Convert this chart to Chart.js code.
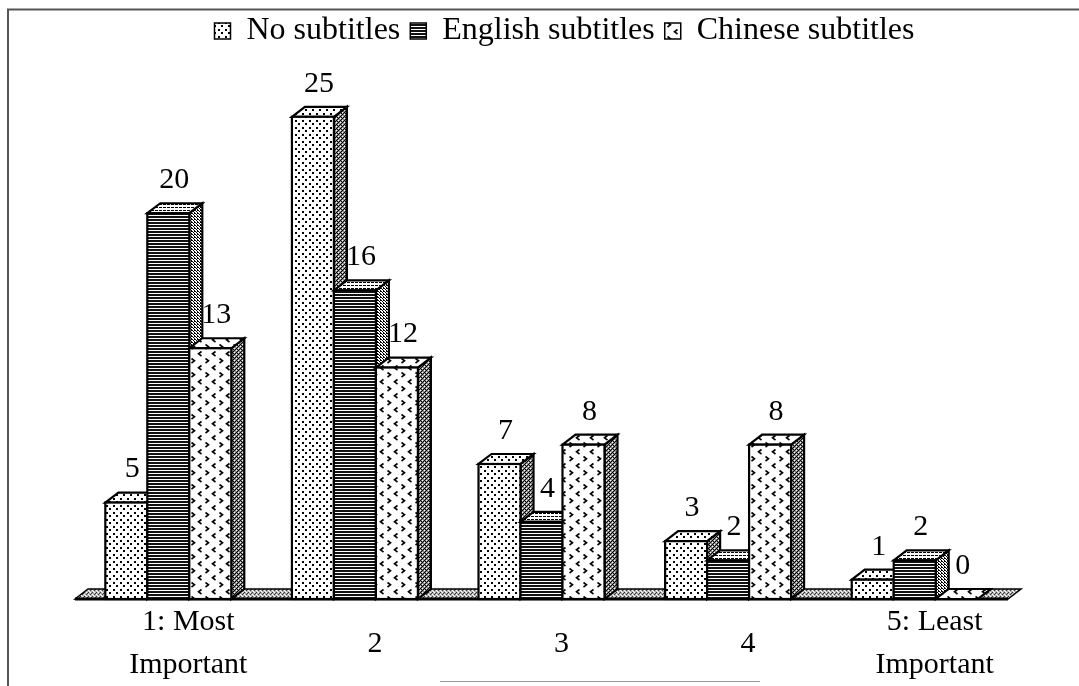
<!DOCTYPE html>
<html>
<head>
<meta charset="utf-8">
<script src="https://cdn.jsdelivr.net/npm/chart.js@4/dist/chart.umd.min.js"></script>
<style>
  html, body { margin: 0; padding: 0; background: #fff; }
  #wrap { width: 1079px; height: 686px; position: relative; }
</style>
</head>
<body>
<div id="wrap"><canvas id="rankChart"></canvas></div>
<script>
// ranking categories and counts per subtitle condition
const categories = [['1: Most', 'Important'], '2', '3', '4', ['5: Least', 'Important']];
const noSubtitles = [5, 25, 7, 3, 1];
const englishSubtitles = [20, 16, 4, 2, 2];
const chineseSubtitles = [13, 12, 8, 8, 0];
const seriesNames = ['No subtitles', 'English subtitles', 'Chinese subtitles'];

const serif = '"Liberation Serif", "Times New Roman", serif';
const DX = 13, DY = 10; // 3d depth offset

// small tiles turned into canvas patterns
function tile(w, h, draw) {
  const c = document.createElement('canvas');
  c.width = w; c.height = h;
  const g = c.getContext('2d');
  draw(g);
  return g.createPattern(c, 'repeat');
}
function px(g, pts, color) {
  g.fillStyle = color;
  pts.forEach(p => g.fillRect(p[0], p[1], 1, 1));
}

const dots = tile(7, 7, g => {
  g.fillStyle = '#fff'; g.fillRect(0, 0, 7, 7);
  g.fillStyle = '#000';
  g.fillRect(1, 1, 2, 2);
  g.fillRect(4, 4, 2, 2);
});
const hlines = tile(4, 3, g => {
  g.fillStyle = '#111'; g.fillRect(0, 0, 4, 3);
  g.fillStyle = '#fff'; g.fillRect(0, 2, 4, 1);
});
const chevrons = tile(14, 14, g => {
  g.fillStyle = '#fff'; g.fillRect(0, 0, 14, 14);
  g.strokeStyle = '#000'; g.lineWidth = 1.6;
  g.beginPath();
  g.moveTo(5.5, 1.5); g.lineTo(2.5, 3.8); g.lineTo(5.5, 6);
  g.moveTo(9.5, 8.5); g.lineTo(12.5, 10.8); g.lineTo(9.5, 13);
  g.stroke();
});
const darkHatch = tile(4, 4, g => {
  g.fillStyle = '#8a8a8a'; g.fillRect(0, 0, 4, 4);
  px(g, [[0, 0], [2, 2], [1, 3], [3, 1], [1, 1]], '#000');
  px(g, [[2, 0], [0, 2]], '#fff');
});
const denseDots = tile(3, 3, g => {
  g.fillStyle = '#fff'; g.fillRect(0, 0, 3, 3);
  px(g, [[0, 0], [1, 1], [2, 2], [2, 0]], '#000');
});
const lightLines = tile(4, 3, g => {
  g.fillStyle = '#fff'; g.fillRect(0, 0, 4, 3);
  px(g, [[0, 0], [1, 0], [3, 0]], '#000');
});
const floorFill = tile(4, 4, g => {
  g.fillStyle = '#b4b4b4'; g.fillRect(0, 0, 4, 4);
  px(g, [[0, 0], [2, 2], [3, 1]], '#333');
  px(g, [[2, 0], [0, 2], [1, 3]], '#fff');
});

// front, top and side fill for each series
const faces = [
  { front: dots, top: dots, side: darkHatch },
  { front: hlines, top: lightLines, side: denseDots },
  { front: chevrons, top: chevrons, side: darkHatch }
];

function poly(ctx, pts, fill) {
  ctx.beginPath();
  ctx.moveTo(pts[0][0], pts[0][1]);
  for (let i = 1; i < pts.length; i++) ctx.lineTo(pts[i][0], pts[i][1]);
  ctx.closePath();
  ctx.fillStyle = fill;
  ctx.fill();
  ctx.stroke();
}

const floorPlugin = {
  id: 'floor',
  beforeDatasetsDraw(chart) {
    const ctx = chart.ctx, a = chart.chartArea;
    const base = chart.scales.y.getPixelForValue(0);
    ctx.save();
    ctx.strokeStyle = '#000';
    ctx.lineWidth = 1.5;
    poly(ctx, [[a.left, base], [a.left + DX, base - DY], [a.right + DX, base - DY], [a.right, base]], floorFill);
    ctx.lineWidth = 3;
    ctx.beginPath();
    ctx.moveTo(a.left, base); ctx.lineTo(a.right, base);
    ctx.stroke();
    ctx.restore();
  }
};

// redraws every bar as a box, left to right, so later faces hide earlier sides
const boxPlugin = {
  id: 'boxes',
  afterDatasetsDraw(chart) {
    const ctx = chart.ctx;
    const metas = chart.data.datasets.map((d, i) => chart.getDatasetMeta(i));
    ctx.save();
    ctx.strokeStyle = '#000';
    ctx.lineWidth = 2.2;
    ctx.lineJoin = 'miter';
    for (let c = 0; c < categories.length; c++) {
      metas.forEach((meta, s) => {
        const bar = meta.data[c];
        const x0 = bar.x - bar.width / 2, x1 = bar.x + bar.width / 2;
        const top = bar.y, base = bar.base;
        const f = faces[s];
        poly(ctx, [[x1, base], [x1 + DX, base - DY], [x1 + DX, top - DY], [x1, top]], f.side);
        poly(ctx, [[x0, top], [x0 + DX, top - DY], [x1 + DX, top - DY], [x1, top]], f.top);
        if (base - top > 0.5) {
          ctx.fillStyle = f.front;
          ctx.fillRect(x0, top, x1 - x0, base - top);
          ctx.strokeRect(x0, top, x1 - x0, base - top);
        }
      });
    }
    // value labels above each box
    ctx.fillStyle = '#000';
    ctx.font = '30px ' + serif;
    ctx.textAlign = 'center';
    ctx.textBaseline = 'middle';
    metas.forEach((meta, s) => {
      meta.data.forEach((bar, c) => {
        const v = chart.data.datasets[s].data[c];
        ctx.fillText(String(v), bar.x + 6, bar.y - 33);
      });
    });
    ctx.restore();
  }
};

// legend sits a little right of the plot centre
const legendShift = {
  id: 'legendShift',
  afterLayout(chart) {
    chart.legend.left += 23;
    chart.legend.right += 23;
  }
};

const framePlugin = {
  id: 'frame',
  afterDraw(chart) {
    const ctx = chart.ctx;
    ctx.save();
    ctx.strokeStyle = '#555';
    ctx.lineWidth = 2;
    ctx.beginPath();
    ctx.moveTo(8, 686); ctx.lineTo(8, 9.5); ctx.lineTo(1079, 9.5);
    ctx.stroke();
    ctx.strokeStyle = '#999';
    ctx.lineWidth = 1;
    ctx.beginPath();
    ctx.moveTo(440, 681.5); ctx.lineTo(760, 681.5);
    ctx.stroke();
    ctx.restore();
  }
};

new Chart(document.getElementById('rankChart'), {
  type: 'bar',
  data: {
    labels: categories,
    datasets: [
      { label: seriesNames[0], data: noSubtitles, backgroundColor: dots, borderWidth: 0 },
      { label: seriesNames[1], data: englishSubtitles, backgroundColor: hlines, borderWidth: 0 },
      { label: seriesNames[2], data: chineseSubtitles, backgroundColor: chevrons, borderWidth: 0 }
    ]
  },
  options: {
    responsive: true,
    maintainAspectRatio: false,
    animation: false,
    layout: { padding: { left: 75, right: 71, top: 5, bottom: 0 } },
    datasets: { bar: { categoryPercentage: 0.675, barPercentage: 1 } },
    plugins: {
      tooltip: { enabled: false },
      legend: {
        position: 'top',
        labels: {
          color: '#000',
          font: { family: serif, size: 32 },
          boxWidth: 16,
          boxHeight: 16,
          padding: 10,
          generateLabels(chart) {
            const items = Chart.defaults.plugins.legend.labels.generateLabels(chart);
            items.forEach(it => { it.strokeStyle = '#000'; it.lineWidth = 1.5; });
            return items;
          }
        }
      }
    },
    scales: {
      x: {
        grid: { display: false, drawTicks: false },
        border: { display: false },
        afterFit(scale) { scale.height = 87; },
        ticks: {
          color: '#000',
          font: { family: serif, size: 30, lineHeight: 1.45 },
          padding: 23,
          labelOffset: 20,
          crossAlign: 'center',
          maxRotation: 0,
          autoSkip: false
        }
      },
      y: { display: false, min: 0, max: 28.1 }
    }
  },
  plugins: [floorPlugin, boxPlugin, legendShift, framePlugin]
});
</script>
</body>
</html>
